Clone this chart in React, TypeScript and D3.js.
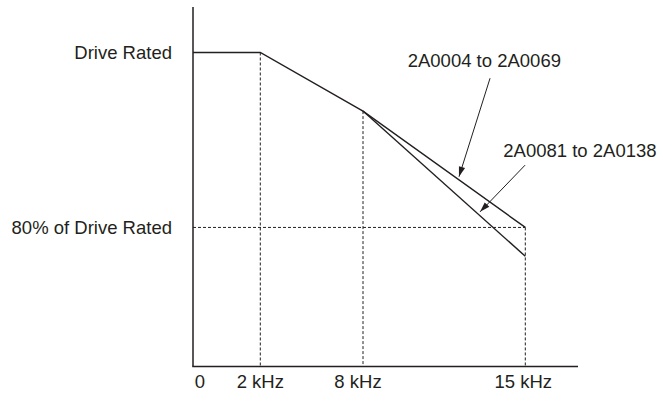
import React from "react";
import * as d3 from "d3";

// ---- data ----
const series1Name = "2A0004 to 2A0069";
const series2Name = "2A0081 to 2A0138";
const freqs1 = [0, 2, 8, 15];
const pct1 = [100, 100, 93.3, 80];
const freqs2 = [8, 15];
const pct2 = [93.3, 76.7];
const xTickValues = [0, 2, 8, 15];
const xTickLabels = ["0", "2 kHz", "8 kHz", "15 kHz"];
const yTickValues = [100, 80];
const yTickLabels = ["Drive Rated", "80% of Drive Rated"];
// annotation arrows: [fromX, fromY, toX, toY] in data units
const arrow1 = [13.48, 97.06, 12.14, 85.8];
const arrow2 = [14.99, 87.12, 13.05, 81.78];

const W = 658;
const H = 394;
const INK = "#231f20";
const FONT = "'Liberation Sans', Arial, Helvetica, sans-serif";
const FS = 18.5;

export default function App() {
  // piecewise-linear x scale (the reference axis is not uniform)
  const x = d3
    .scaleLinear()
    .domain([0, 2, 8, 15, 17.3])
    .range([193, 260.3, 363, 525.3, 578]);
  const y = d3.scaleLinear().domain([64.1, 105.2]).range([366.5, 7]);

  const line = d3
    .line<[number, number]>()
    .x((d) => x(d[0]))
    .y((d) => y(d[1]));

  const s1: [number, number][] = freqs1.map((f, i) => [f, pct1[i]]);
  const s2: [number, number][] = freqs2.map((f, i) => [f, pct2[i]]);

  const xDomainMax = 17.3;
  const yDomainMin = 64.1;
  const yDomainMax = 105.2;

  // guide lines: verticals at 2, 8, 15 kHz up to the curve; horizontal at 80%
  const vGuides: [number, number][] = [
    [2, 100],
    [8, 93.3],
    [15, 80],
  ];

  const labelDx = [7, 0, -5, -2];

  const arrowPath = (a: number[]) => {
    const x1 = x(a[0]),
      y1 = y(a[1]),
      x2 = x(a[2]),
      y2 = y(a[3]);
    return { x1, y1, x2, y2 };
  };
  const head = (a: number[]) => {
    const { x1, y1, x2, y2 } = arrowPath(a);
    const ang = Math.atan2(y2 - y1, x2 - x1);
    const L = 10,
      Wd = 3.2;
    const bx = x2 - L * Math.cos(ang),
      by = y2 - L * Math.sin(ang);
    const px = -Math.sin(ang) * Wd,
      py = Math.cos(ang) * Wd;
    return `M${x2},${y2}L${bx + px},${by + py}L${bx - px},${by - py}Z`;
  };

  return (
    <svg
      width={W}
      height={H}
      style={{ position: "absolute", left: 0, top: 0, background: "#fff" }}
      fontFamily={FONT}
    >
      <rect width={W} height={H} fill="#fff" />
      {/* dashed guides */}
      {vGuides.map(([f, p], i) => (
        <line
          key={"v" + i}
          x1={x(f)}
          x2={x(f)}
          y1={y(p)}
          y2={y(yDomainMin)}
          stroke={INK}
          strokeWidth={1}
          strokeDasharray="3,2"
        />
      ))}
      <line
        x1={x(0)}
        x2={x(15)}
        y1={y(80)}
        y2={y(80)}
        stroke={INK}
        strokeWidth={1}
        strokeDasharray="3,2"
      />
      {/* axes */}
      <line
        x1={x(0)}
        x2={x(0)}
        y1={y(yDomainMax)}
        y2={y(yDomainMin)}
        stroke={INK}
        strokeWidth={1.5}
      />
      <line
        x1={x(0) - 0.75}
        x2={x(xDomainMax)}
        y1={y(yDomainMin)}
        y2={y(yDomainMin)}
        stroke={INK}
        strokeWidth={1.5}
      />
      {/* series */}
      <path d={line(s1) || ""} fill="none" stroke={INK} strokeWidth={1.4} />
      <path d={line(s2) || ""} fill="none" stroke={INK} strokeWidth={1.4} />
      {/* arrows */}
      {[arrow1, arrow2].map((a, i) => {
        const p = arrowPath(a);
        return (
          <g key={"a" + i}>
            <line {...p} stroke={INK} strokeWidth={1} />
            <path d={head(a)} fill={INK} />
          </g>
        );
      })}
      {/* annotation labels */}
      <text x={407.7} y={66.5} fontSize={FS} fill={INK}>
        {series1Name}
      </text>
      <text x={503.3} y={157} fontSize={FS} fill={INK}>
        {series2Name}
      </text>
      {/* y labels */}
      {yTickValues.map((v, i) => (
        <text
          key={"y" + i}
          x={172}
          y={y(v)}
          dy="0.35em"
          textAnchor="end"
          fontSize={FS}
          fill={INK}
        >
          {yTickLabels[i]}
        </text>
      ))}
      {/* x labels */}
      {xTickValues.map((v, i) => (
        <text
          key={"x" + i}
          x={x(v) + labelDx[i]}
          y={388}
          textAnchor="middle"
          fontSize={FS}
          fill={INK}
        >
          {xTickLabels[i]}
        </text>
      ))}
    </svg>
  );
}
